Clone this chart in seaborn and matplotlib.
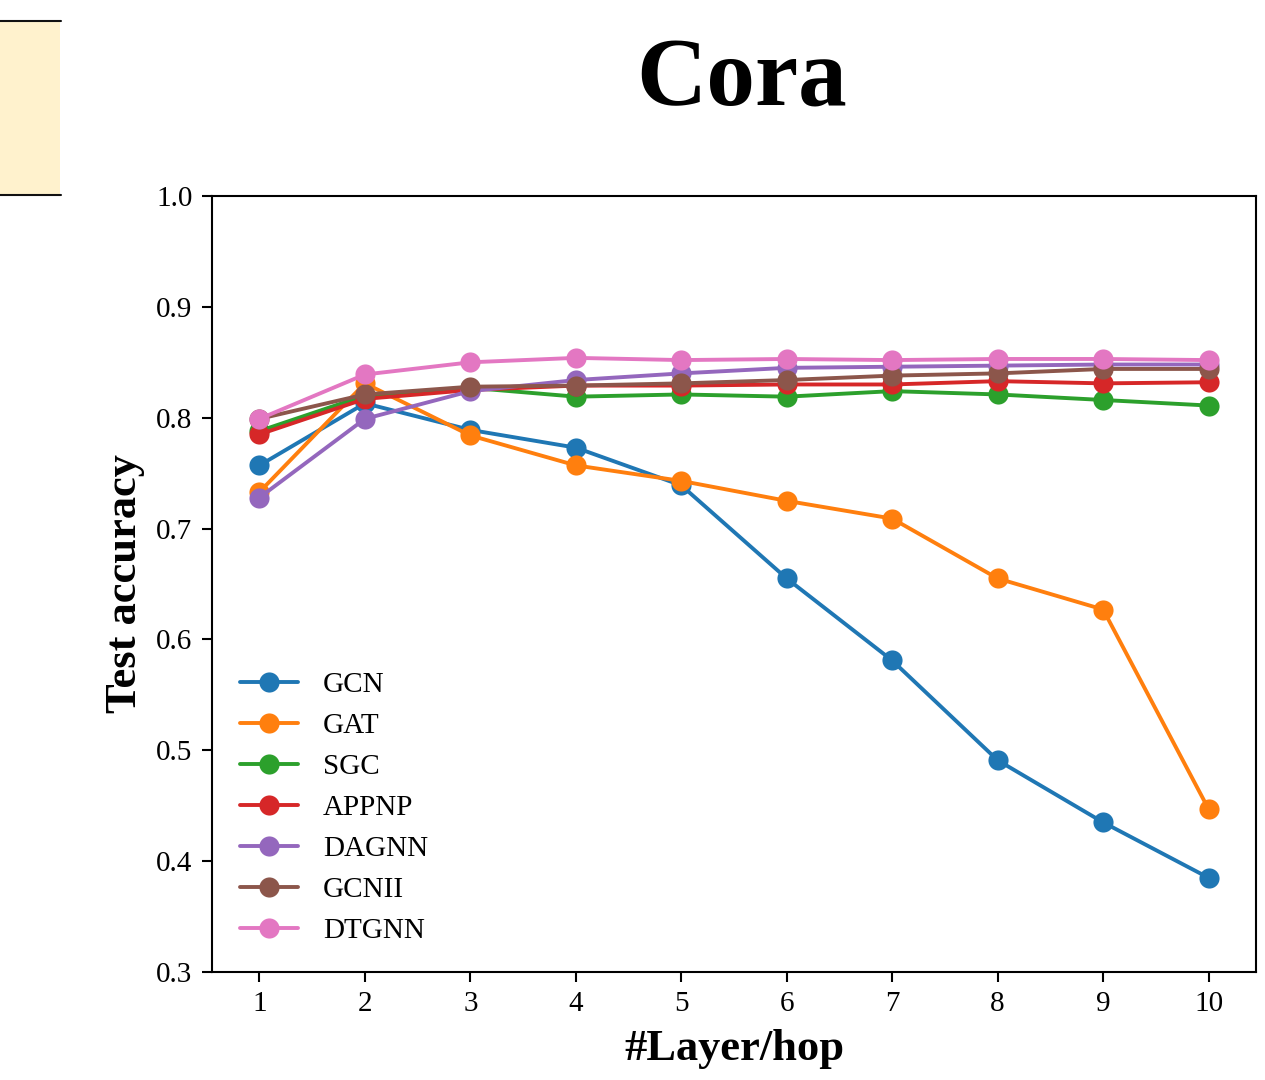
import matplotlib
matplotlib.use("Agg")
import matplotlib.pyplot as plt
import seaborn as sns
import pandas as pd
from matplotlib.patches import Rectangle
from matplotlib.lines import Line2D

layers = [1, 2, 3, 4, 5, 6, 7, 8, 9, 10]
models = ["GCN", "GAT", "SGC", "APPNP", "DAGNN", "GCNII", "DTGNN"]
gcn   = [0.757, 0.813, 0.789, 0.773, 0.739, 0.655, 0.581, 0.491, 0.435, 0.385]
gat   = [0.733, 0.831, 0.784, 0.757, 0.743, 0.725, 0.709, 0.655, 0.627, 0.447]
sgc   = [0.788, 0.820, 0.827, 0.819, 0.821, 0.819, 0.824, 0.821, 0.816, 0.811]
appnp = [0.785, 0.817, 0.825, 0.829, 0.829, 0.830, 0.830, 0.833, 0.831, 0.832]
dagnn = [0.728, 0.799, 0.824, 0.834, 0.840, 0.845, 0.846, 0.847, 0.848, 0.848]
gcnii = [0.799, 0.821, 0.828, 0.829, 0.831, 0.834, 0.838, 0.840, 0.844, 0.844]
dtgnn = [0.799, 0.839, 0.850, 0.854, 0.852, 0.853, 0.852, 0.853, 0.853, 0.852]

series = [gcn, gat, sgc, appnp, dagnn, gcnii, dtgnn]
rows = []
for m, vals in zip(models, series):
    for l, v in zip(layers, vals):
        rows.append({"layer": l, "acc": v, "model": m})
df = pd.DataFrame(rows)

sns.set_style("ticks")
plt.rcParams["font.family"] = ["Liberation Serif", "DejaVu Serif"]
plt.rcParams["text.color"] = "black"
plt.rcParams["axes.labelcolor"] = "black"
plt.rcParams["xtick.color"] = "black"
plt.rcParams["ytick.color"] = "black"

fig = plt.figure(figsize=(12.65, 10.8), dpi=100)
ax = fig.add_axes([0.1676, 0.1, 0.9929 - 0.1676, 0.8185 - 0.1])

palette = sns.color_palette("tab10", 7)
sns.lineplot(data=df, x="layer", y="acc", hue="model", hue_order=models,
             palette=palette, marker="o", markersize=14.5, markeredgewidth=0,
             linewidth=2.8, ax=ax, legend=False)

ax.set_xlim(0.55, 10.45)
ax.set_ylim(0.3, 1.0)
ax.set_xticks(layers)
ax.set_yticks([0.3, 0.4, 0.5, 0.6, 0.7, 0.8, 0.9, 1.0])
ax.set_yticklabels(["0.3", "0.4", "0.5", "0.6", "0.7", "0.8", "0.9", "1.0"])
ax.tick_params(axis="both", labelsize=21, length=7, width=1.5, direction="out",
               colors="black", pad=7)
for s in ax.spines.values():
    s.set_linewidth(1.5)
    s.set_color("black")
    s.set_visible(True)

ax.set_xlabel("#Layer/hop", fontsize=32, fontweight="bold", labelpad=8)
ax.set_ylabel("Test accuracy", fontsize=32, fontweight="bold", labelpad=8)

handles = [Line2D([0], [0], color=c, marker="o", markersize=14.5, markeredgewidth=0, linewidth=2.8)
           for c in palette]
ax.legend(handles, models, loc="lower left", frameon=False, fontsize=21,
          bbox_to_anchor=(0.0, 0.0), handlelength=2.0, labelspacing=0.5,
          handletextpad=0.85, borderaxespad=0.75, borderpad=0.2)

fig.text(0.586, 0.9245, "Cora", ha="center", va="center", fontsize=70, fontweight="bold",
         color="black")

# decorative box at top-left
fig.patches.append(Rectangle((0, (1080 - 195) / 1080), 60 / 1265, (195 - 21) / 1080,
                             transform=fig.transFigure, facecolor="#fff2cd", edgecolor="none"))
fig.add_artist(Line2D([0, 61 / 1265], [1 - 21 / 1080] * 2, transform=fig.transFigure, color="#111111", linewidth=1.5))
fig.add_artist(Line2D([0, 61 / 1265], [1 - 195 / 1080] * 2, transform=fig.transFigure, color="#111111", linewidth=1.5))

fig.savefig("out.png", dpi=100)
